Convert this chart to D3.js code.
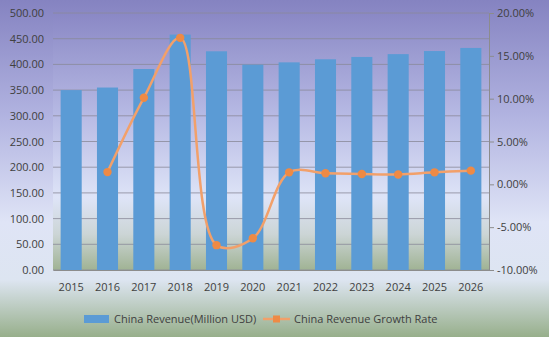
<!DOCTYPE html>
<html><head><meta charset="utf-8">
<script src="https://cdn.jsdelivr.net/npm/d3@7"></script>
<style>body{margin:0;padding:0;overflow:hidden}svg{display:block}text{font-family:"Open Sans",sans-serif;fill:#404040}</style>
</head><body>
<svg id="c" width="549" height="337"></svg>
<script>
const years = ["2015","2016","2017","2018","2019","2020","2021","2022","2023","2024","2025","2026"];
const revenue = [350, 355, 391, 458, 425.5, 399.5, 404, 410, 414.5, 420, 426, 432];
const growth = [null, 1.43, 10.1, 17.1, -7.1, -6.3, 1.4, 1.3, 1.2, 1.15, 1.4, 1.6];
const leftTicks = [0,50,100,150,200,250,300,350,400,450,500];
const rightTicks = [-10,-5,0,5,10,15,20];
const seriesNames = ["China Revenue(Million USD)", "China Revenue Growth Rate"];

const svg = d3.select("#c");
const W = 549, H = 337;
const m = {l:53, r:60, t:13, b:67};
const x0 = m.l, x1 = W - m.r, y0 = m.t, y1 = H - m.b;

const defs = svg.append("defs");
const bg = defs.append("linearGradient").attr("id","bg").attr("x1",0).attr("y1",0).attr("x2",0).attr("y2",1);
[[0,"#8583c1"],[0.35,"#b2b4e1"],[0.66,"#dfe4f6"],[0.83,"#dde5f1"],[1,"#97af8b"]].forEach(s=>bg.append("stop").attr("offset",s[0]).attr("stop-color",s[1]));
const pg = defs.append("linearGradient").attr("id","pg").attr("x1",0).attr("y1",0).attr("x2",0).attr("y2",1);
[[0,"#8a88c5"],[0.4,"#b7bae4"],[0.72,"#dee4f7"],[0.86,"#ccd5d6"],[1,"#a0b394"]].forEach(s=>pg.append("stop").attr("offset",s[0]).attr("stop-color",s[1]));

svg.append("rect").attr("width",W).attr("height",H).attr("fill","url(#bg)");
svg.append("rect").attr("x",x0).attr("y",y0).attr("width",x1-x0).attr("height",y1-y0).attr("fill","url(#pg)");

const x = d3.scaleBand().domain(years).range([x0,x1]).paddingInner(0.42).paddingOuter(0.21);
const yL = d3.scaleLinear().domain([0,500]).range([y1,y0]);
const yR = d3.scaleLinear().domain([-10,20]).range([y1,y0]);

// gridlines
svg.append("g").selectAll("line").data(leftTicks).join("line")
  .attr("x1",x0).attr("x2",x1).attr("y1",d=>yL(d)).attr("y2",d=>yL(d))
  .attr("stroke","#8a8a9a").attr("stroke-width",1).attr("opacity",0.8);

// bars
svg.append("g").selectAll("rect").data(revenue).join("rect")
  .attr("x",(d,i)=>x(years[i])).attr("width",x.bandwidth())
  .attr("y",d=>yL(d)).attr("height",d=>yL(0)-yL(d)).attr("fill","#5b9bd5");

// left axis
const gl = svg.append("g").attr("transform",`translate(${x0},0)`)
  .call(d3.axisLeft(yL).tickValues(leftTicks).tickFormat(d=>d.toFixed(2)).tickSize(0).tickPadding(9));
gl.select(".domain").remove();
gl.selectAll("text").attr("font-size",11).attr("fill","#404040");

// right axis
const gr = svg.append("g").attr("transform",`translate(${x1},0)`)
  .call(d3.axisRight(yR).tickValues(rightTicks).tickFormat(d=>d.toFixed(2)+"%").tickSize(5).tickPadding(3));
gr.select(".domain").attr("stroke","#8c8c8c");
gr.selectAll(".tick line").attr("stroke","#8c8c8c");
gr.selectAll("text").attr("font-size",11).attr("fill","#404040");

// bottom axis
const gb = svg.append("g").attr("transform",`translate(0,${y1})`)
  .call(d3.axisBottom(x).tickSize(0).tickPadding(13));
gb.select(".domain").attr("stroke","#8c8c8c");
gb.selectAll("text").attr("font-size",11).attr("fill","#404040");

// line
const pts = growth.map((g,i)=>({g,i})).filter(p=>p.g!==null);
const line = d3.line().x(p=>x(years[p.i])+x.bandwidth()/2).y(p=>yR(p.g)).curve(d3.curveCatmullRom.alpha(0.5));
svg.append("path").datum(pts).attr("d",line).attr("fill","none").attr("stroke","#f2a06a").attr("stroke-width",2.5);
svg.append("g").selectAll("circle").data(pts).join("circle")
  .attr("cx",p=>x(years[p.i])+x.bandwidth()/2).attr("cy",p=>yR(p.g)).attr("r",4.2).attr("fill","#ee8a45");

// legend
const lg = svg.append("g").attr("transform","translate(0,319)");
lg.append("rect").attr("x",84).attr("y",-4).attr("width",25).attr("height",8).attr("fill","#5b9bd5");
lg.append("text").attr("x",114).attr("y",4).attr("font-size",11).text(seriesNames[0]);
lg.append("line").attr("x1",263).attr("x2",290).attr("y1",0).attr("y2",0).attr("stroke","#f2a06a").attr("stroke-width",2.5);
lg.append("rect").attr("x",273).attr("y",-3.5).attr("width",7).attr("height",7).attr("fill","#ee8a45");
lg.append("text").attr("x",294).attr("y",4).attr("font-size",11).text(seriesNames[1]);
</script>
</body></html>
